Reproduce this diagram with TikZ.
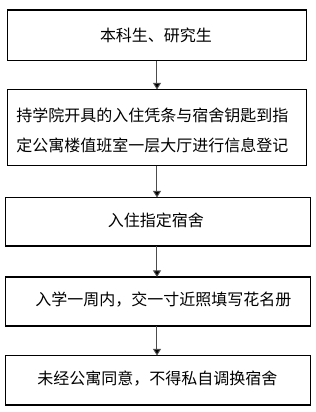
\documentclass[tikz,border=0pt]{standalone}
\usepackage{fontspec}
\setmainfont{Noto Sans CJK SC}
\usetikzlibrary{arrows.meta}
\begin{document}
\begin{tikzpicture}[x=0.75pt,y=-0.75pt,
  boxst/.style={draw=black,line width=0.9pt,inner sep=0pt},
  txt/.style={font=\fontsize{12pt}{15pt}\selectfont,inner sep=0pt},
  arr/.style={draw=black!70,line width=0.75pt,-{Triangle[length=5pt,width=6pt,fill=black]}}]
\useasboundingbox (0,0) rectangle (316,412);
\draw[boxst] (7.5,10) rectangle (306.5,60.5);
\coordinate (b1t) at (157,10); \coordinate (b1b) at (157,60.5);
\draw[boxst] (7.5,89.5) rectangle (306.5,165.5);
\coordinate (b2t) at (157,89.5); \coordinate (b2b) at (157,165.5);
\draw[boxst] (5.5,197.5) rectangle (310.5,246);
\coordinate (b3t) at (157,197.5); \coordinate (b3b) at (157,246);
\draw[boxst] (5.5,277) rectangle (310.5,326);
\coordinate (b4t) at (157,277); \coordinate (b4b) at (157,326);
\draw[boxst] (5.5,355.5) rectangle (310.5,405);
\coordinate (b5t) at (157,355.5);
\node[txt] (t1) at (156,35) {本科生、研究生};
\node[txt,anchor=west] (t2a) at (16,115) {持学院开具的入住凭条与宿舍钥匙到指};
\node[txt,anchor=west] (t2b) at (16,145) {定公寓楼值班室一层大厅进行信息登记};
\node[txt] (t3) at (156,220) {入住指定宿舍};
\node[txt,anchor=west] (t4) at (35,299.5) {入学一周内，交一寸近照填写花名册};
\node[txt,anchor=west] (t5) at (37,378.5) {未经公寓同意，不得私自调换宿舍};
\draw[arr] (b1b) -- (b2t);
\draw[arr] (b2b) -- (b3t);
\draw[arr] (b3b) -- (b4t);
\draw[arr] (b4b) -- (b5t);
\end{tikzpicture}
\end{document}
